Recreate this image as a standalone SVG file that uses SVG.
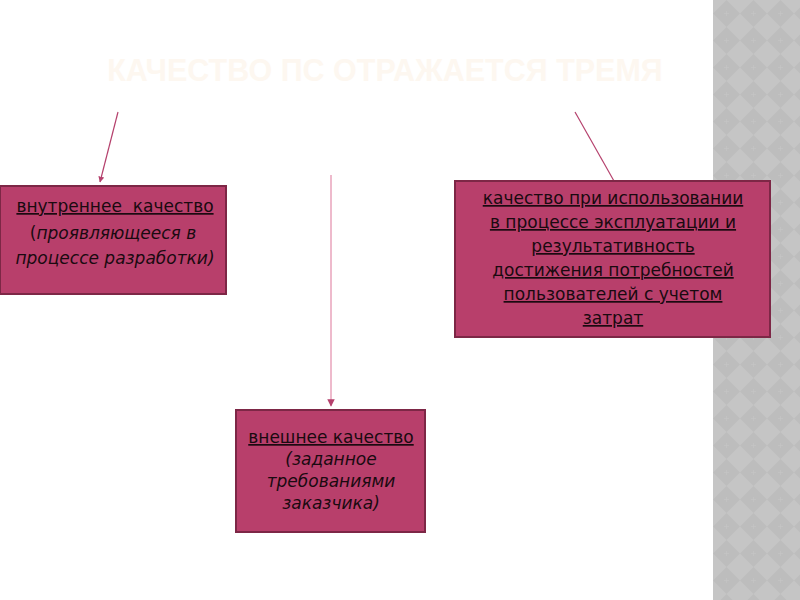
<svg xmlns="http://www.w3.org/2000/svg" width="800" height="600" viewBox="0 0 800 600">
<defs>
<style>
.box{fill:#b83f6b;stroke:#7d2746;stroke-width:2}
.t{font-family:"DejaVu Sans",Verdana,sans-serif;font-size:17px;fill:#1a0a10;text-anchor:middle}
.u{text-decoration:underline}
.i{font-style:italic}
.c{stroke:#b5416d;stroke-width:1.2;fill:none}
.title{font-family:"Liberation Sans",Arial,sans-serif;font-weight:bold;font-size:30.5px;fill:#fdf7f0;text-anchor:middle}
</style>
<marker id="ah" viewBox="0 0 10 10" refX="9" refY="5" markerWidth="5" markerHeight="5" orient="auto">
<path d="M0,0 L10,5 L0,10 z" fill="#b5416d"/>
</marker>
<pattern id="dia" width="27" height="27" patternUnits="userSpaceOnUse" x="713" y="0">
<rect width="27" height="27" fill="#c5c5c5"/>
<path d="M13.5,0 L27,13.5 L13.5,27 L0,13.5 z" fill="#bdbdbd"/>
<path d="M13.5,11 v5 M11,13.5 h5" stroke="#c6c6c6" stroke-width="0.6"/>
</pattern>
</defs>
<rect width="800" height="600" fill="#ffffff"/>
<rect x="713" y="0" width="87" height="600" fill="url(#dia)"/>
<text class="title" x="385" y="81">КАЧЕСТВО ПС ОТРАЖАЕТСЯ ТРЕМЯ</text>
<g id="connectors">
<line class="c" x1="118" y1="112" x2="100" y2="182" marker-end="url(#ah)"/>
<line x1="331" y1="175" x2="331" y2="406" stroke="#e9a3bb" stroke-width="1.5" marker-end="url(#ah)"/>
<line class="c" x1="575" y1="112" x2="614" y2="181"/>
</g>
<g id="node-internal">
<rect class="box" x="0" y="186" width="226" height="108"/>
<text class="t u" x="115" y="212" xml:space="preserve">внутреннее  качество</text>
<text class="t" x="113" y="239">(<tspan class="i">проявляющееся в</tspan></text>
<text class="t i" x="115" y="264">процессе разработки)</text>
</g>
<g id="node-usage">
<rect class="box" x="455" y="181" width="315" height="156"/>
<text class="t u" x="613" y="204">качество при использовании</text>
<text class="t u" x="613" y="228">в процессе эксплуатации и</text>
<text class="t u" x="613" y="252">результативность</text>
<text class="t u" x="613" y="276">достижения потребностей</text>
<text class="t u" x="613" y="300">пользователей с учетом</text>
<text class="t u" x="613" y="324">затрат</text>
</g>
<g id="node-external">
<rect class="box" x="236" y="410" width="189" height="122"/>
<text class="t u" x="331" y="443">внешнее качество</text>
<text class="t i" x="331" y="465">(заданное</text>
<text class="t i" x="331" y="487">требованиями</text>
<text class="t i" x="331" y="509">заказчика)</text>
</g>
</svg>
